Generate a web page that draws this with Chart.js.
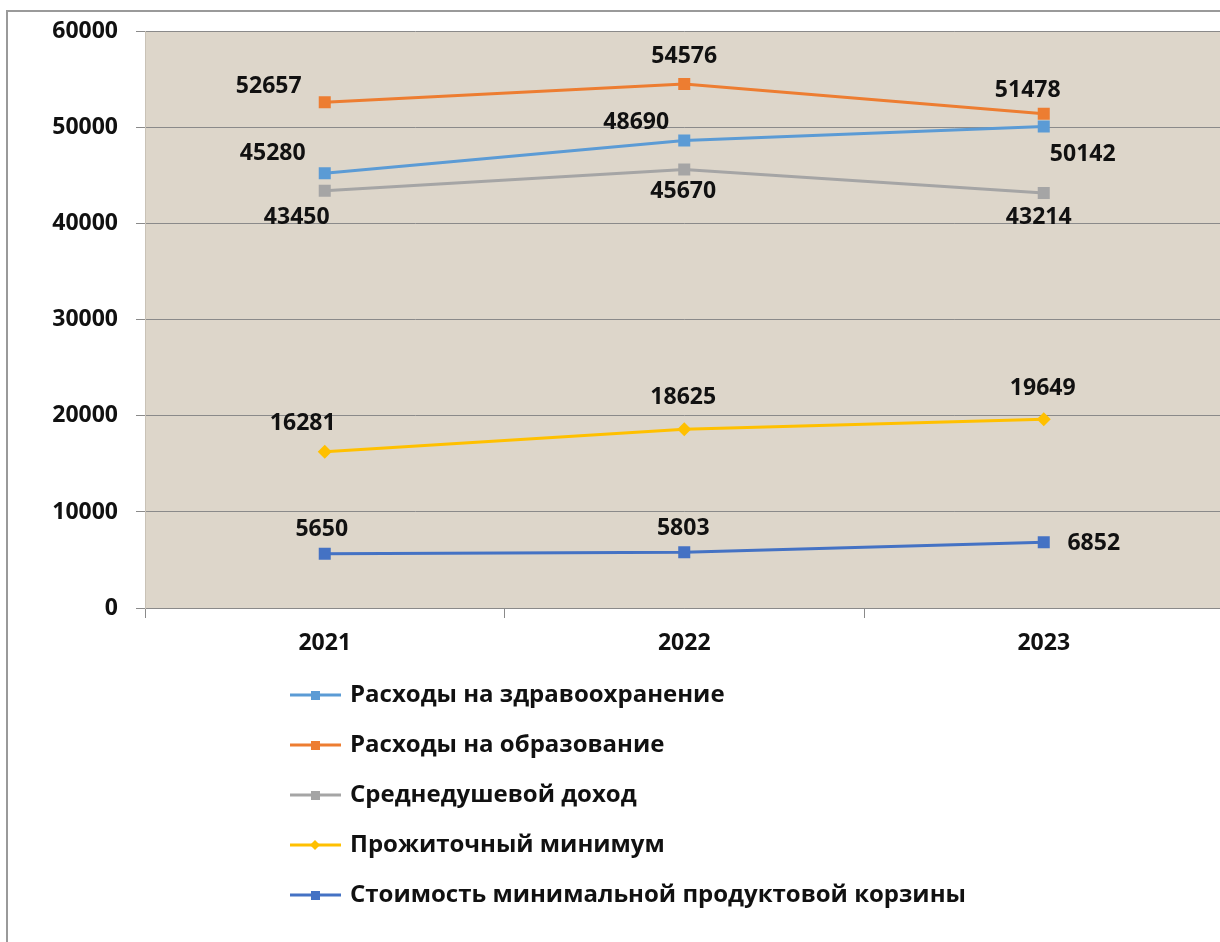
<!DOCTYPE html>
<html>
<head>
<meta charset="utf-8">
<script src="https://cdn.jsdelivr.net/npm/chart.js@4/dist/chart.umd.min.js"></script>
<style>
  html, body { margin: 0; padding: 0; background: #fff; overflow: hidden; }
  #wrap { position: absolute; left: 0; top: 0; width: 1232px; height: 942px; }
</style>
</head>
<body>
<div id="wrap"><canvas id="chart"></canvas></div>
<script>
// chart data
const years = ["2021", "2022", "2023"];
const seriesNames = [
  "Расходы на здравоохранение",
  "Расходы на образование",
  "Среднедушевой доход",
  "Прожиточный минимум",
  "Стоимость минимальной продуктовой корзины",
];
const health = [45280, 48690, 50142];
const education = [52657, 54576, 51478];
const income = [43450, 45670, 43214];
const subsistence = [16281, 18625, 19649];
const foodBasket = [5650, 5803, 6852];
const yTicks = [0, 10000, 20000, 30000, 40000, 50000, 60000];

const FONT = "'Open Sans', 'DejaVu Sans', sans-serif";

// where each value label sits relative to its point (dx, dy)
const labelOffsets = [
  [[-52, -20], [-48, -18], [39, 28]],
  [[-56, -16], [0, -27], [-16, -23]],
  [[-28, 27], [-1, 22], [-5, 24]],
  [[-22, -28], [-1, -32], [-1, -31]],
  [[-3, -24], [-1, -24], [50, 1]],
];

function series(i, data, color, style, radius) {
  return {
    label: seriesNames[i],
    data: data,
    borderColor: color,
    backgroundColor: color,
    borderWidth: 3,
    pointStyle: style,
    pointRadius: radius,
    pointHoverRadius: radius,
    pointBorderWidth: 0,
    tension: 0,
  };
}

// plot background + outer frame
const backdrop = {
  id: "backdrop",
  beforeDraw(chart) {
    const { ctx, chartArea: a } = chart;
    ctx.save();
    ctx.strokeStyle = "#9a9a9a";
    ctx.lineWidth = 2;
    ctx.strokeRect(7, 11, chart.width + 20, chart.height + 20);
    ctx.fillStyle = "#ddd6ca";
    ctx.fillRect(a.left, a.top, a.right - a.left, a.bottom - a.top);
    ctx.restore();
  },
};

// value labels next to the points
const valueLabels = {
  id: "valueLabels",
  afterDatasetsDraw(chart) {
    const ctx = chart.ctx;
    ctx.save();
    ctx.font = "bold 23px " + FONT;
    ctx.fillStyle = "#111";
    ctx.textAlign = "center";
    ctx.textBaseline = "middle";
    chart.data.datasets.forEach((ds, i) => {
      chart.getDatasetMeta(i).data.forEach((pt, j) => {
        const off = labelOffsets[i][j];
        ctx.fillText(String(ds.data[j]), pt.x + off[0], pt.y + off[1]);
      });
    });
    ctx.restore();
  },
};

// vertical legend under the axis
const stackedLegend = {
  id: "stackedLegend",
  afterDraw(chart) {
    const ctx = chart.ctx;
    ctx.save();
    ctx.font = "bold 24px " + FONT;
    ctx.textBaseline = "middle";
    chart.data.datasets.forEach((ds, i) => {
      const y = 695 + i * 50;
      ctx.strokeStyle = ds.borderColor;
      ctx.lineWidth = 3;
      ctx.beginPath();
      ctx.moveTo(290, y);
      ctx.lineTo(341, y);
      ctx.stroke();
      ctx.fillStyle = ds.backgroundColor;
      if (ds.pointStyle === "rectRot") {
        ctx.beginPath();
        ctx.moveTo(315, y - 5);
        ctx.lineTo(320, y);
        ctx.lineTo(315, y + 5);
        ctx.lineTo(310, y);
        ctx.closePath();
        ctx.fill();
      } else {
        ctx.fillRect(311, y - 4, 9, 9);
      }
      ctx.fillStyle = "#111";
      ctx.fillText(ds.label, 350, y);
    });
    ctx.restore();
  },
};

new Chart(document.getElementById("chart"), {
  type: "line",
  data: {
    labels: years,
    datasets: [
      series(0, health, "#5b9bd5", "rect", 8.5),
      series(1, education, "#ed7d31", "rect", 8.5),
      series(2, income, "#a5a5a5", "rect", 8.5),
      series(3, subsistence, "#ffc000", "rectRot", 7),
      series(4, foodBasket, "#4472c4", "rect", 8.5),
    ],
  },
  options: {
    responsive: true,
    maintainAspectRatio: false,
    animation: false,
    layout: { padding: { top: 30, right: 7, bottom: 274, left: 0 } },
    plugins: {
      legend: { display: false },
      tooltip: { enabled: false },
    },
    scales: {
      x: {
        offset: true,
        afterFit(scale) { scale.height = 60; },
        grid: {
          offset: true,
          drawOnChartArea: false,
          drawTicks: true,
          tickLength: 10,
          color: "#8a8a8a",
        },
        border: { display: true, color: "#8a8a8a", width: 1 },
        ticks: {
          color: "#111",
          padding: 12,
          font: { family: FONT, size: 23, weight: "bold" },
        },
      },
      y: {
        min: 0,
        max: 60000,
        afterFit(scale) { scale.width = 145; },
        afterBuildTicks(scale) { scale.ticks = yTicks.map((v) => ({ value: v })); },
        grid: { color: "#8a8a8a", tickLength: 9, lineWidth: 1 },
        border: { display: true, color: "#c9c2b6", width: 1 },
        ticks: {
          color: "#111",
          padding: 18,
          font: { family: FONT, size: 23, weight: "bold" },
          callback: (v) => String(v),
        },
      },
    },
  },
  plugins: [backdrop, valueLabels, stackedLegend],
});
</script>
</body>
</html>
